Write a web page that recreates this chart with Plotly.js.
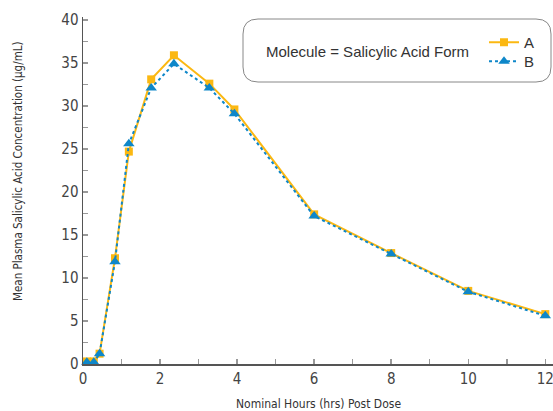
<!DOCTYPE html>
<html>
<head>
<meta charset="utf-8">
<script src="https://cdn.plot.ly/plotly-3.0.1.min.js"></script>
<style>
html,body{margin:0;padding:0;background:#fff;}
#chart{width:553px;height:411px;}
</style>
</head>
<body>
<div id="chart"></div>
<script>
var hours = [0.1, 0.28, 0.43, 0.83, 1.19, 1.77, 2.36, 3.28, 3.93, 6, 8, 10, 12];
var seriesA = [0.3, 0.3, 1.2, 12.3, 24.7, 33.1, 35.9, 32.6, 29.6, 17.4, 12.9, 8.5, 5.8];
var seriesB = [0.2, 0.2, 1.2, 11.9, 25.6, 32.1, 34.9, 32.1, 29.1, 17.2, 12.8, 8.4, 5.6];
var seriesNames = ['A', 'B'];
var legendTitle = 'Molecule = Salicylic Acid Form';
var xTitle = 'Nominal Hours (hrs) Post Dose';
var yTitle = 'Mean Plasma Salicylic Acid Concentration (\u00b5g/mL)';

var W = 553, H = 411;
var mL = 83, mR = 0, mT = 17, mB = 47;
var pw = W - mL - mR, ph = H - mT - mB;
function px(x) { return (x - mL) / pw; }
function py(y) { return (H - mB - y) / ph; }

// rounded legend box (paper coords)
var bx0 = 243, bx1 = 551, by0 = 19, by1 = 82, r = 15;
var path = 'M ' + px(bx0 + r) + ',' + py(by0) +
  ' L ' + px(bx1 - r) + ',' + py(by0) +
  ' Q ' + px(bx1) + ',' + py(by0) + ' ' + px(bx1) + ',' + py(by0 + r) +
  ' L ' + px(bx1) + ',' + py(by1 - r) +
  ' Q ' + px(bx1) + ',' + py(by1) + ' ' + px(bx1 - r) + ',' + py(by1) +
  ' L ' + px(bx0 + r) + ',' + py(by1) +
  ' Q ' + px(bx0) + ',' + py(by1) + ' ' + px(bx0) + ',' + py(by1 - r) +
  ' L ' + px(bx0) + ',' + py(by0 + r) +
  ' Q ' + px(bx0) + ',' + py(by0) + ' ' + px(bx0 + r) + ',' + py(by0) + ' Z';

var yellow = '#FBB812', blue = '#0E87C9';
var narrow = '"Liberation Sans Narrow", "DejaVu Sans Condensed", "DejaVu Sans", sans-serif';
var regular = '"Liberation Sans", Arial, sans-serif';

var traces = [
  {x: hours, y: seriesA, name: seriesNames[0], type: 'scatter', mode: 'lines+markers', legend: 'legend',
   line: {color: yellow, width: 2}, marker: {symbol: 'square', size: 8, color: yellow}, cliponaxis: false},
  {x: hours, y: seriesB, name: seriesNames[1], type: 'scatter', mode: 'lines+markers', legend: 'legend2',
   line: {color: blue, width: 2, dash: 'dot'}, marker: {symbol: 'triangle-up', size: 10, color: blue}, cliponaxis: false}
];

var axisCommon = {
  showgrid: false, zeroline: false, showline: true, linecolor: '#555', linewidth: 1.5,
  ticks: 'inside', ticklen: 5, tickcolor: '#999', tickwidth: 1.5, ticklabeloverflow: 'allow',
  tickfont: {family: narrow, size: 15, color: '#444'}
};

function legendAt(topPx) {
  return {
    font: {family: regular, size: 15, color: '#333'},
    x: px(484), y: py(topPx), xanchor: 'left', yanchor: 'top',
    bgcolor: 'rgba(0,0,0,0)', borderwidth: 0, itemwidth: 30, tracegroupgap: 0
  };
}

var layout = {
  width: W, height: H,
  margin: {l: mL, r: mR, t: mT, b: mB, pad: 0},
  paper_bgcolor: '#fff', plot_bgcolor: '#fff',
  showlegend: true,
  xaxis: Object.assign({}, axisCommon, {range: [0, 12.2], dtick: 2, tick0: 0,
    minor: {dtick: 1, ticks: 'inside', ticklen: 5, tickcolor: '#999', tickwidth: 1.5}}),
  yaxis: Object.assign({}, axisCommon, {range: [0, 40.35], dtick: 5, tick0: 0,
    minor: {dtick: 2.5, ticks: 'inside', ticklen: 5, tickcolor: '#999', tickwidth: 1.5}}),
  legend: legendAt(26),
  legend2: legendAt(45),
  shapes: [{type: 'path', xref: 'paper', yref: 'paper', path: path,
    line: {color: '#888', width: 1}, fillcolor: 'rgba(255,255,255,0)', layer: 'below'}],
  annotations: [
    {text: xTitle, xref: 'paper', yref: 'paper', x: px(318), y: py(404), xanchor: 'center', yanchor: 'middle',
     showarrow: false, font: {family: narrow, size: 12, color: '#333'}},
    {text: yTitle, xref: 'paper', yref: 'paper', x: px(18), y: py(171), xanchor: 'center', yanchor: 'middle',
     textangle: -90, showarrow: false, font: {family: narrow, size: 11.5, color: '#333'}},
    {text: legendTitle, xref: 'paper', yref: 'paper', x: px(264), y: py(51), xanchor: 'left', yanchor: 'middle',
     showarrow: false, font: {family: regular, size: 15, color: '#333'}}
  ]
};

Plotly.newPlot('chart', traces, layout, {displayModeBar: false, staticPlot: true});
</script>
</body>
</html>
